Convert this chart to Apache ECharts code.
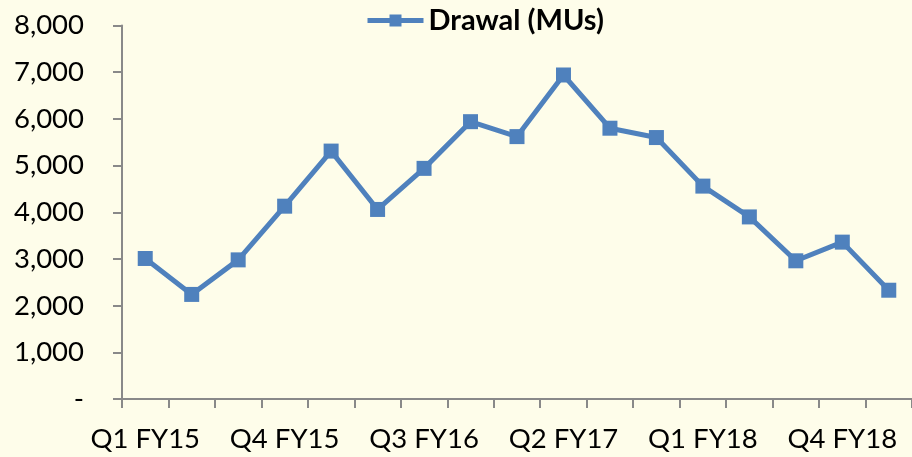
<!DOCTYPE html>
<html><head><meta charset="utf-8">
<script src="https://cdn.jsdelivr.net/npm/echarts@6/dist/echarts.min.js"></script>
<style>html,body{margin:0;padding:0;background:#FEFDEA;}#c{width:912px;height:457px;}</style>
</head><body><div id="c"></div>
<script>
const categories = ["Q1 FY15","Q2 FY15","Q3 FY15","Q4 FY15","Q1 FY16","Q2 FY16","Q3 FY16","Q4 FY16","Q1 FY17","Q2 FY17","Q3 FY17","Q4 FY17","Q1 FY18","Q2 FY18","Q3 FY18","Q4 FY18","Q1 FY19"];
const drawal = [3010, 2240, 2980, 4130, 5310, 4060, 4940, 5940, 5620, 6940, 5800, 5600, 4560, 3900, 2960, 3360, 2330];
const seriesName = "Drawal (MUs)";
const FONT = "Lato";
const chart = echarts.init(document.getElementById('c'), null, {renderer:'canvas'});
chart.setOption({
  backgroundColor: '#FEFDEA',
  animation: false,
  legend: {
    left: 360, top: 1,
    itemWidth: 56, itemHeight: 15, itemGap: 5,
    lineStyle: {width: 5},
    textStyle: {fontFamily: FONT, fontSize: 29, fontWeight: 'bold', color: '#000', padding: [0,0,0,0]},
    data: [seriesName]
  },
  grid: {left: 122, right: -2, top: 25.5, bottom: 58, containLabel: false},
  xAxis: {
    type: 'category', data: categories, boundaryGap: true,
    axisLine: {lineStyle: {color: '#898989', width: 2}},
    axisTick: {show: true, interval: 0, length: 9, lineStyle: {color: '#898989', width: 2}},
    axisLabel: {interval: 2, margin: 26, fontFamily: FONT, fontSize: 27.5, color: '#000'}
  },
  yAxis: {
    type: 'value', min: 0, max: 8000, interval: 1000,
    splitLine: {show: false},
    axisLine: {show: true, lineStyle: {color: '#898989', width: 2}},
    axisTick: {show: true, length: 9, lineStyle: {color: '#898989', width: 2}},
    axisLabel: {margin: 38, fontFamily: FONT, fontSize: 27.5, color: '#000',
      formatter: v => v === 0 ? '-' : v.toLocaleString('en-US')}
  },
  series: [{
    name: seriesName, type: 'line', data: drawal,
    symbol: 'rect', symbolSize: 15,
    lineStyle: {color: '#4F81BD', width: 5},
    itemStyle: {color: '#4F81BD'}
  }]
});
</script></body></html>
